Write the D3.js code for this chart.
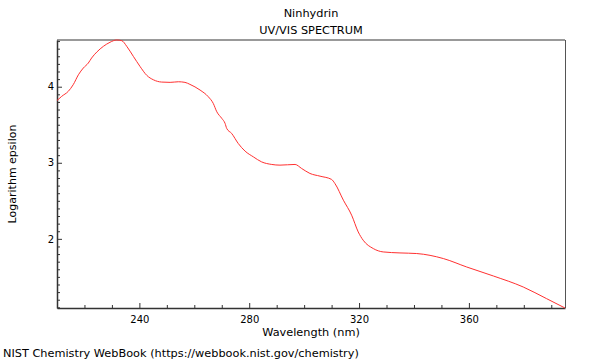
<!DOCTYPE html>
<html>
<head>
<meta charset="utf-8">
<script src="https://cdn.jsdelivr.net/npm/d3@7"></script>
<style>
  html, body { margin: 0; padding: 0; background: #fff; }
  text { font-family: "DejaVu Sans", sans-serif; fill: #000; }
</style>
</head>
<body>
<svg id="chart" width="600" height="360"></svg>
<script>
const titleText = "Ninhydrin";
const subtitleText = "UV/VIS SPECTRUM";
const xLabel = "Wavelength (nm)";
const yLabel = "Logarithm epsilon";
const footerText = "NIST Chemistry WebBook (https://webbook.nist.gov/chemistry)";

const wavelength = [210, 211.7, 214.1, 215.9, 217.8, 219.6, 221.4, 222.6, 224.5, 226.9, 229.3, 231.7, 233.6, 235.4, 237.8, 240.2, 242.7, 245.1, 248.1, 251.2, 254.2, 256.6, 258.4, 262.1, 265.1, 266.9, 268.2, 270.0, 271.2, 271.8, 273.6, 276.0, 278.5, 281.5, 284.5, 288.2, 291.2, 296.7, 299.1, 302.1, 305.8, 310.0, 311.2, 314.3, 317.3, 319.7, 321.5, 325.2, 328.8, 334.9, 341.0, 350.7, 359.2, 368.9, 379.8, 388.3, 395.0];
const logEpsilon = [3.818, 3.873, 3.939, 4.026, 4.157, 4.246, 4.311, 4.377, 4.456, 4.531, 4.584, 4.614, 4.605, 4.531, 4.399, 4.268, 4.149, 4.091, 4.061, 4.057, 4.065, 4.057, 4.031, 3.956, 3.868, 3.781, 3.670, 3.584, 3.518, 3.452, 3.386, 3.254, 3.153, 3.078, 3.012, 2.978, 2.969, 2.978, 2.925, 2.860, 2.824, 2.781, 2.728, 2.508, 2.311, 2.091, 1.982, 1.872, 1.828, 1.815, 1.807, 1.741, 1.630, 1.512, 1.367, 1.214, 1.091];
const xMajorTicks = [240, 280, 320, 360];
const yMajorTicks = [2, 3, 4];

const svg = d3.select("#chart");
const m = { left: 57, right: 565, top: 40, bottom: 308 };

const data = wavelength.map((w, i) => ({ x: w, y: logEpsilon[i] }));

const x = d3.scaleLinear().domain(d3.extent(wavelength)).range([m.left, m.right]);
const y = d3.scaleLinear().domain(d3.extent(logEpsilon)).range([m.bottom, m.top]);

const xMinor = d3.range(220, 395, 10).filter(v => !xMajorTicks.includes(v));
const yMinor = d3.range(11, 47, 1).map(v => v / 10).filter(v => !yMajorTicks.includes(v) && v > y.domain()[0] && v < y.domain()[1]);

// top frame line (grey)
svg.append("line").attr("x1", m.left).attr("x2", m.right).attr("y1", m.top).attr("y2", m.top)
  .attr("stroke", "#999").attr("stroke-width", 2);
// right frame line
svg.append("line").attr("x1", m.right + 0.5).attr("x2", m.right + 0.5).attr("y1", m.top).attr("y2", m.bottom)
  .attr("stroke", "#555").attr("stroke-width", 1);

// x axis (ticks inward)
const xAxis = d3.axisBottom(x).tickValues(xMajorTicks).tickSizeInner(-5).tickSizeOuter(0).tickPadding(8).tickFormat(d3.format("d"));
const gx = svg.append("g").attr("transform", `translate(0,${m.bottom})`).call(xAxis);
gx.select(".domain").attr("stroke", "#333").attr("stroke-width", 1.5);
gx.selectAll(".tick line").attr("stroke", "#333");
gx.selectAll(".tick text").attr("font-size", 10).attr("font-family", "DejaVu Sans").attr("fill", "#000");
const gxm = d3.axisBottom(x).tickValues(xMinor).tickSizeInner(-3).tickSizeOuter(0).tickFormat("");
const gxmg = svg.append("g").attr("transform", `translate(0,${m.bottom})`).call(gxm);
gxmg.select(".domain").remove();
gxmg.selectAll(".tick line").attr("stroke", "#333");

// y axis
const yAxis = d3.axisLeft(y).tickValues(yMajorTicks).tickSizeInner(-5).tickSizeOuter(0).tickPadding(3).tickFormat(d3.format("d"));
const gy = svg.append("g").attr("transform", `translate(${m.left},0)`).call(yAxis);
gy.select(".domain").attr("stroke", "#333").attr("stroke-width", 1.5);
gy.selectAll(".tick line").attr("stroke", "#333");
gy.selectAll(".tick text").attr("font-size", 10).attr("font-family", "DejaVu Sans").attr("fill", "#000");
const gym = d3.axisLeft(y).tickValues(yMinor).tickSizeInner(-3).tickSizeOuter(0).tickFormat("");
const gymg = svg.append("g").attr("transform", `translate(${m.left},0)`).call(gym);
gymg.select(".domain").remove();
gymg.selectAll(".tick line").attr("stroke", "#333");

// curve
const line = d3.line().x(d => x(d.x)).y(d => y(d.y)).curve(d3.curveMonotoneX);
svg.append("path").datum(data).attr("d", line)
  .attr("fill", "none").attr("stroke", "#ff3030").attr("stroke-width", 1);

const cx = (m.left + m.right) / 2;
svg.append("text").attr("x", cx).attr("y", 17).attr("text-anchor", "middle").attr("font-size", 11.3).text(titleText);
svg.append("text").attr("x", cx).attr("y", 34).attr("text-anchor", "middle").attr("font-size", 11.3).text(subtitleText);
svg.append("text").attr("x", cx).attr("y", 336).attr("text-anchor", "middle").attr("font-size", 11.3).text(xLabel);
svg.append("text").attr("transform", `translate(15.5,174) rotate(-90)`).attr("text-anchor", "middle").attr("font-size", 11).text(yLabel);
svg.append("text").attr("x", 3).attr("y", 357).attr("font-size", 11.3).text(footerText);
</script>
</body>
</html>
